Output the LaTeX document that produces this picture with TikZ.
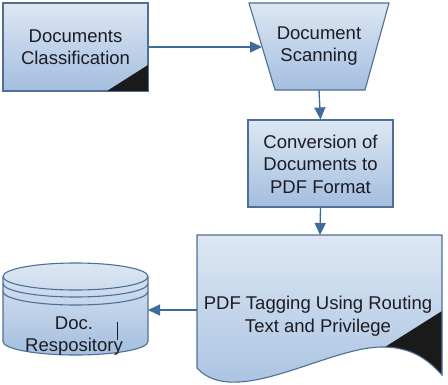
\documentclass[tikz,border=0pt]{standalone}
\usepackage{fontspec}
\setmainfont{Liberation Sans}
\usetikzlibrary{arrows.meta}
\definecolor{edgec}{HTML}{4F6F96}
\definecolor{arrc}{HTML}{3E6A9C}
\definecolor{topc}{HTML}{DDE7F3}
\definecolor{botc}{HTML}{A3BEDF}
\definecolor{txtc}{HTML}{1C1C24}
\definecolor{foldc}{HTML}{1A1A1A}
\tikzset{
  blockfill/.style={top color=topc, bottom color=botc},
  blockedge/.style={draw=edgec, line width=1.1pt},
  lbl/.style={font=\fontsize{18.5}{22.5}\selectfont, text=txtc, align=center, inner sep=0pt},
  conn/.style={draw=arrc, line width=1.3pt, -{Triangle[length=12pt,width=11pt]}},
  foldfill/.style={fill=foldc, draw=none}
}
\begin{document}
\begin{tikzpicture}[x=1pt,y=-1pt]
\useasboundingbox (0,0) rectangle (448,384);
\fill[white] (0,0) rectangle (448,384);

% Documents Classification
\node[blockfill, blockedge, minimum width=145pt, minimum height=88pt, inner sep=0pt] (clsbox) at (75.5,47) {};
\fill[foldfill] (107,91) -- (148,91) -- (148,65) -- cycle;
\draw[blockedge] (clsbox.south west) rectangle (clsbox.north east);
\node[lbl] (cls) at (75.5,47) {Documents\\Classification};

% Document Scanning (trapezoid)
\path[blockfill] (249,3) -- (389,3) -- (365,90) -- (275,90) -- cycle;
\draw[blockedge] (249,3) -- (389,3) -- (365,90) -- (275,90) -- cycle;
\node[lbl] (scan) at (319,46) {Document\\Scanning};
\coordinate (scanL) at (262,47);
\coordinate (scanB) at (319,90);

% Conversion
\node[blockfill, blockedge, minimum width=145pt, minimum height=87pt, inner sep=0pt] (convbox) at (320.5,163.5) {};
\node[lbl] (conv) at (320.5,164) {Conversion of\\Documents to\\PDF Format};

% PDF Tagging (document shape)
\path[blockfill] (197,235) -- (442,235) -- (442,375) .. controls (430,362) and (415,348) .. (385,347) .. controls (330,345) and (235,410) .. (197,368) -- cycle;
\fill[foldfill] (385,347) -- (442,311) -- (442,375) .. controls (430,362) and (415,348) .. (385,347) -- cycle;
\draw[blockedge] (197,235) -- (442,235) -- (442,375) .. controls (430,362) and (415,348) .. (385,347) .. controls (330,345) and (235,410) .. (197,368) -- cycle;
\node[lbl] (tag) at (318,316) {PDF Tagging Using Routing\\Text and Privilege};
\coordinate (tagT) at (320,235);
\coordinate (tagL) at (197,310);

% Doc. Repository (cylinder)
\path[blockfill] (3,276.5) -- (3,341.5) arc[start angle=180, end angle=360, x radius=72.5pt, y radius=13.5pt] -- (148,276.5) arc[start angle=0, end angle=180, x radius=72.5pt, y radius=13.5pt] -- cycle;
\draw[blockedge] (3,276.5) -- (3,341.5) arc[start angle=180, end angle=360, x radius=72.5pt, y radius=13.5pt] -- (148,276.5);
\draw[blockedge] (75.5,276.5) ellipse [x radius=72.5pt, y radius=13.5pt];
\draw[blockedge] (3,283.5) arc[start angle=180, end angle=360, x radius=72.5pt, y radius=13.5pt];
\draw[blockedge] (3,291.5) arc[start angle=180, end angle=360, x radius=72.5pt, y radius=13.5pt];
\node[lbl] (repo) at (74,336) {Doc.\\Respository};
\draw[txtc, line width=0.6pt] (117,322) -- (117,340);
\coordinate (repoR) at (148,310);

% Connectors
\draw[conn] (clsbox.east) -- (scanL);
\draw[conn] (scanB) -- (convbox.north);
\draw[conn] (convbox.south) -- (tagT);
\draw[conn] (tagL) -- (repoR);
\end{tikzpicture}
\end{document}
